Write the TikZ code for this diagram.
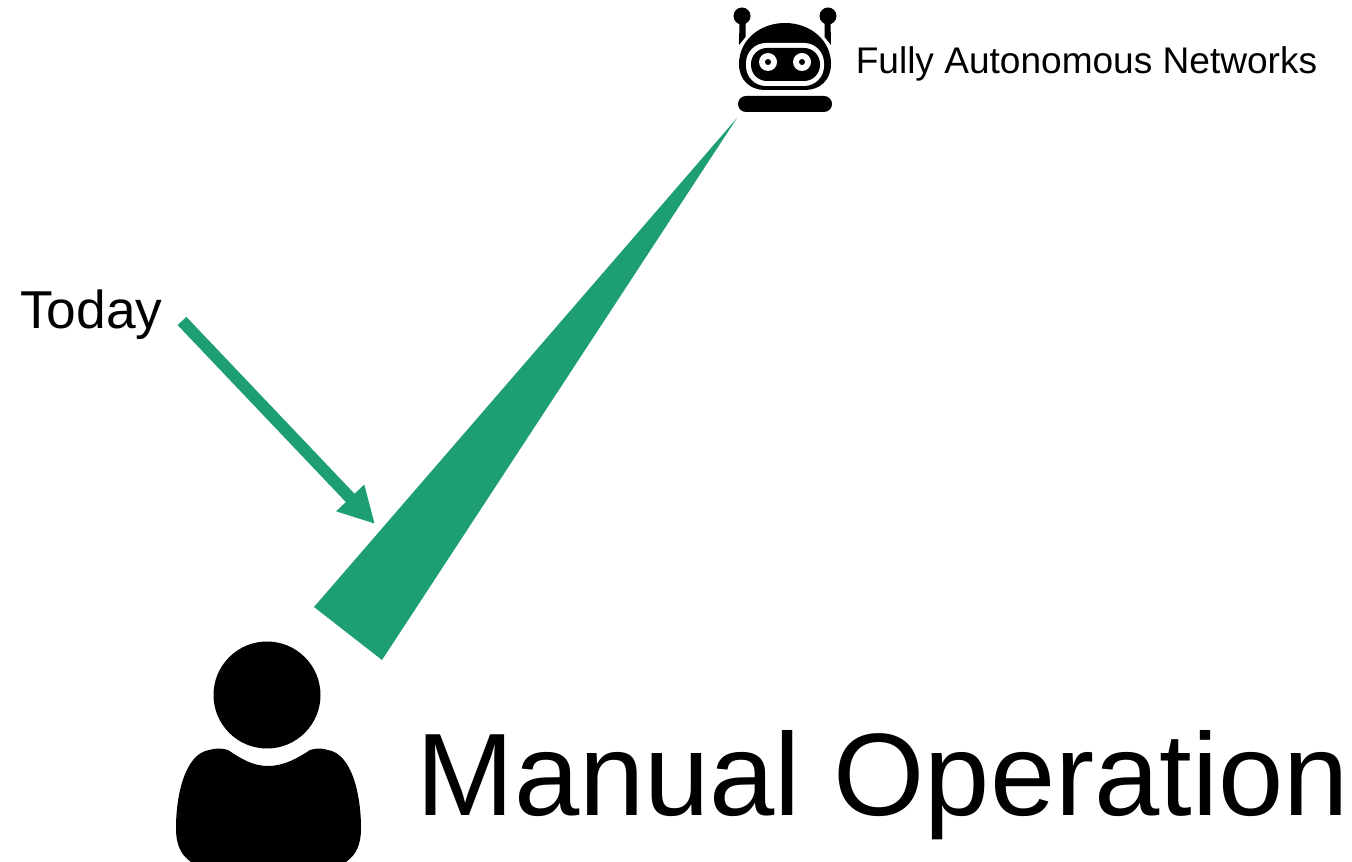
\documentclass[tikz,border=0pt]{standalone}
\usepackage{fontspec}
\setmainfont{Liberation Sans}
\usetikzlibrary{arrows.meta}
\definecolor{trendgreen}{HTML}{1D9E75}
\tikzset{
    label_text/.style={anchor=base west, inner sep=0pt, text=black},
    black_part/.style={fill=black, draw=none},
    white_part/.style={fill=white, draw=none},
}

\begin{document}
\begin{tikzpicture}[x=.75pt, y=-.75pt]
    \useasboundingbox (0, 0) rectangle (1352, 862);

    % Labels
    \node (today_label) at (20, 329) 
        [label_text] 
        {\fontsize{40}{40}\selectfont Today};
    \node (autonomous_label) at (855.5, 74) 
        [label_text] 
        {\fontsize{27.8}{28}\selectfont Fully Autonomous Networks};
    \node (manual_label) at (416, 815) 
        [label_text] 
        {\fontsize{88}{88}\selectfont Manual Operation};

    % Wedge
    \coordinate (wedge_tip) at (737, 118);
    \coordinate (wedge_left) at (314, 607);
    \coordinate (wedge_right) at (382, 660);
    \fill [trendgreen] (wedge_tip) -- (wedge_left) -- (wedge_right) -- cycle;

    % Arrow
    \coordinate (today_start) at (182, 321);
    \coordinate (today_end) at (375, 524);
    \draw [trendgreen, line width=9pt, -{Triangle[length=27pt, width=27pt]}] 
        (today_start) -- (today_end);

    % Robot
    \fill [black_part] (742, 16) circle (8.5);
    \fill [black_part] (828, 16) circle (8.5);
    \fill [black_part] (739.5, 20) -- (745.5, 20) -- (745.5, 37) -- (739, 45) -- cycle;
    \fill [black_part] (824.5, 20) -- (830.5, 20) -- (831, 45) -- (824.5, 37) -- cycle;
    \fill [black_part] (739, 64) 
        .. controls (739, 40) and (760, 23) .. (785, 23) 
        .. controls (810, 23) and (831, 40) .. (831, 64) 
        .. controls (831, 80) and (820, 90) .. (805, 90) 
        -- (765, 90) 
        .. controls (750, 90) and (739, 80) .. (739, 64) -- cycle;
    \fill [white_part, rounded corners=15pt] (746, 43) rectangle (824, 86);
    \fill [black_part, rounded corners=12pt] (751, 48) rectangle (820, 81);
    \fill [white_part] (768, 62) circle (9);
    \fill [white_part] (802, 62) circle (9);
    \fill [black_part] (768, 62) circle (3);
    \fill [black_part] (802, 62) circle (3);
    \fill [black_part, rounded corners=6pt] (738, 96) rectangle (832, 112);

    % Person
    \fill [black_part] (267, 695) circle (53.5);
    \fill [black_part] (228, 750) 
        .. controls (240, 758) and (252, 766) .. (268, 766) 
        .. controls (284, 766) and (298, 758) .. (310, 750) 
        .. controls (316, 748) and (322, 748) .. (328, 750) 
        .. controls (352, 754) and (361, 795) .. (361, 828) 
        .. controls (361, 845) and (356, 855) .. (346, 862) 
        -- (191, 862) 
        .. controls (181, 855) and (176, 845) .. (176, 828) 
        .. controls (176, 795) and (185, 754) .. (209, 750) 
        .. controls (216, 748) and (222, 748) .. (228, 750) -- cycle;
\end{tikzpicture}
\end{document}
